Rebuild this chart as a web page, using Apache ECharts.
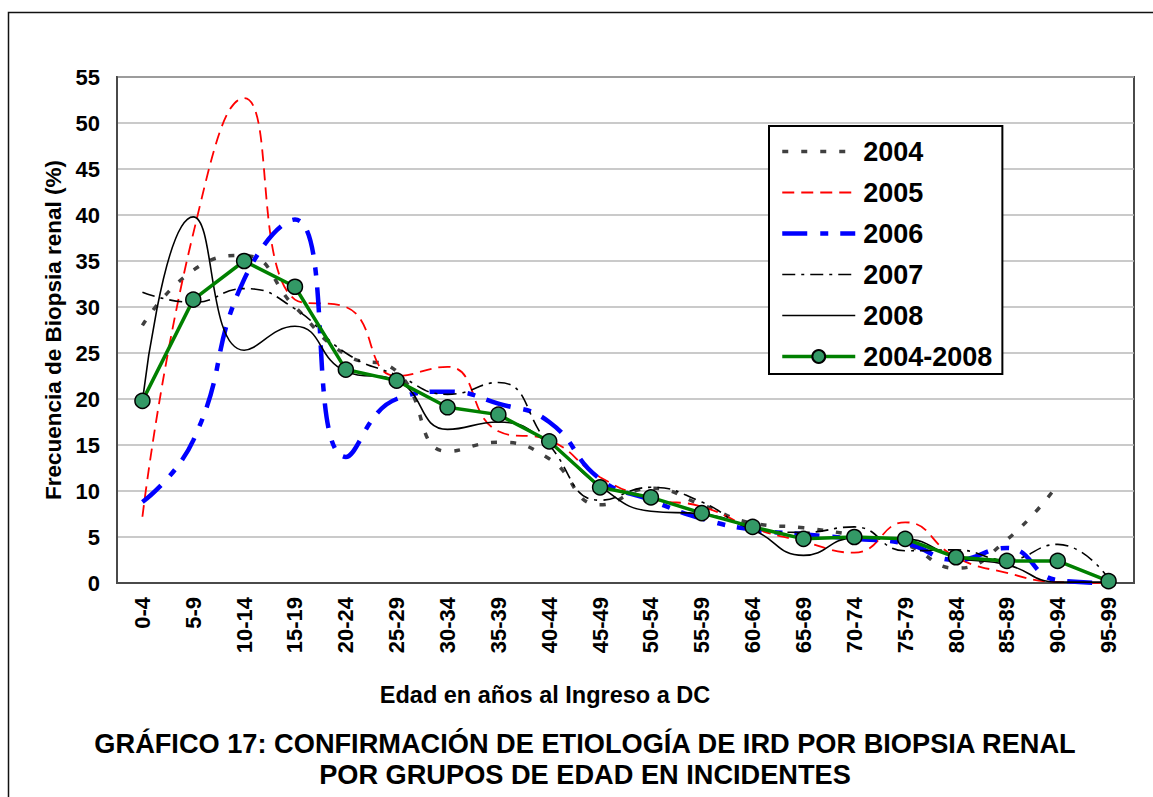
<!DOCTYPE html>
<html><head><meta charset="utf-8">
<script src="https://cdn.jsdelivr.net/npm/echarts@6/dist/echarts.min.js"></script>
<style>html,body{margin:0;padding:0;background:#fff}#c{width:1153px;height:797px}</style>
</head><body><div id="c"></div>
<script>
const categories = ['0-4','5-9','10-14','15-19','20-24','25-29','30-34','35-39','40-44','45-49','50-54','55-59','60-64','65-69','70-74','75-79','80-84','85-89','90-94','95-99'];
const v2004 = [28.0, 34.0, 35.6, 30.0, 24.8, 23.0, 14.3, 15.3, 13.5, 8.5, 10.3, 8.5, 6.5, 6.0, 5.2, 4.2, 1.6, 4.7, 10.7, null];
const v2005 = [7.2, 38.0, 52.7, 30.8, 30.0, 22.5, 23.5, 16.5, 15.5, 11.5, 9.2, 8.3, 6.0, 4.5, 3.3, 6.6, 2.8, 1.1, 0.1, 0.0];
const v2006 = [8.8, 15.5, 33.0, 39.5, 13.7, 20.0, 20.8, 19.5, 17.5, 11.3, 9.0, 7.0, 5.8, 5.3, 4.8, 4.3, 2.5, 3.8, 0.3, 0.0];
const v2007 = [31.6, 30.5, 32.0, 29.8, 25.0, 22.6, 20.5, 21.8, 15.0, 9.0, 10.4, 8.8, 6.0, 5.5, 6.1, 3.5, 3.6, 2.5, 4.2, 0.5];
const v2008 = [19.8, 39.8, 25.3, 27.9, 23.0, 22.0, 16.7, 17.5, 15.2, 10.5, 7.8, 7.5, 5.8, 3.0, 4.9, 4.8, 2.8, 2.0, 0.1, 0.1];
const vTotal = [19.8, 30.8, 35.0, 32.2, 23.2, 22.0, 19.1, 18.3, 15.4, 10.4, 9.3, 7.6, 6.1, 4.8, 5.0, 4.8, 2.8, 2.4, 2.4, 0.2];
const seriesNames = ['2004','2005','2006','2007','2008','2004-2008'];
const yTicks = {min: 0, max: 55, interval: 5};

const FONT = '"Liberation Sans", Arial, sans-serif';
const chart = echarts.init(document.getElementById('c'), null, {renderer: 'svg'});

const styles = {
  '2004': {color: '#404040', width: 3.5, type: [6, 13]},
  '2005': {color: '#ff0000', width: 1.8, type: [12, 7]},
  '2006': {color: '#0000ff', width: 4.5, type: [25, 13, 8, 12]},
  '2007': {color: '#000000', width: 1.6, type: [13, 6, 3, 6]},
  '2008': {color: '#000000', width: 1.6, type: 'solid'},
  '2004-2008': {color: '#008000', width: 3.5, type: 'solid'}
};

function smoothLine(name, data) {
  const s = styles[name];
  return {
    name, type: 'line', data, smooth: 0.5, symbol: 'none', connectNulls: false, z: 3,
    lineStyle: {color: s.color, width: s.width, type: s.type, cap: 'butt'},
    itemStyle: {color: s.color}
  };
}

chart.setOption({
  animation: false,
  backgroundColor: '#fff',
  title: [
    {
      text: 'GRÁFICO 17: CONFIRMACIÓN DE ETIOLOGÍA DE IRD POR BIOPSIA RENAL\nPOR GRUPOS DE EDAD EN INCIDENTES',
      left: 580, top: 723, textAlign: 'center',
      textStyle: {fontFamily: FONT, fontSize: 27.2, fontWeight: 'bold', color: '#000', lineHeight: 31, align: 'center'}
    },
    {
      text: 'Edad en años al Ingreso a DC',
      left: 540, top: 678, textAlign: 'center',
      textStyle: {fontFamily: FONT, fontSize: 23.5, fontWeight: 'bold', color: '#000'}
    }
  ],
  graphic: [{
    type: 'rect', left: 6, top: 10, silent: true,
    shape: {width: 1160, height: 800},
    style: {fill: 'none', stroke: '#111', lineWidth: 1.5}
  }],
  legend: {
    orient: 'vertical', left: 769, top: 126,
    padding: [12, 10, 4, 11],
    itemWidth: 73, itemHeight: 16, itemGap: 14,
    backgroundColor: '#fff', borderColor: '#000', borderWidth: 2,
    textStyle: {fontFamily: FONT, fontSize: 27, fontWeight: 'bold', color: '#000', padding: [0,0,0,3]},
    data: seriesNames.map(n => {
      const s = styles[n];
      const item = {name: n, lineStyle: {color: s.color, width: s.width, type: s.type, cap: 'butt'}};
      if (n !== '2004-2008') item.itemStyle = {opacity: 0};
      return item;
    })
  },
  grid: {left: 117, top: 77, right: 19, bottom: 214, show: true, borderColor: '#4a4a4a', borderWidth: 2, containLabel: false},
  xAxis: {
    type: 'category', data: categories, boundaryGap: true,
    axisLine: {show: true, lineStyle: {color: '#4a4a4a', width: 2}},
    axisTick: {show: false},
    axisLabel: {rotate: 90, margin: 14, fontFamily: FONT, fontSize: 22, fontWeight: 'bold', color: '#000', interval: 0},
    splitLine: {show: false}
  },
  yAxis: {
    type: 'value', min: yTicks.min, max: yTicks.max, interval: yTicks.interval,
    name: 'Frecuencia de Biopsia renal (%)', nameLocation: 'middle', nameGap: 50, nameRotate: 90,
    nameTextStyle: {fontFamily: FONT, fontSize: 22.5, fontWeight: 'bold', color: '#000'},
    axisLine: {show: true, lineStyle: {color: '#4a4a4a', width: 2}},
    axisTick: {show: false},
    axisLabel: {margin: 17, fontFamily: FONT, fontSize: 22, fontWeight: 'bold', color: '#000'},
    splitLine: {show: true, lineStyle: {color: '#b8b8b8', width: 1.5}}
  },
  series: [
    smoothLine('2004', v2004),
    smoothLine('2005', v2005),
    smoothLine('2006', v2006),
    smoothLine('2007', v2007),
    smoothLine('2008', v2008),
    {
      name: '2004-2008', type: 'line', data: vTotal, smooth: false, z: 5,
      symbol: 'circle', symbolSize: 15,
      lineStyle: {color: styles['2004-2008'].color, width: styles['2004-2008'].width},
      itemStyle: {color: '#339966', borderColor: '#000', borderWidth: 1.5}
    }
  ]
});
</script></body></html>
